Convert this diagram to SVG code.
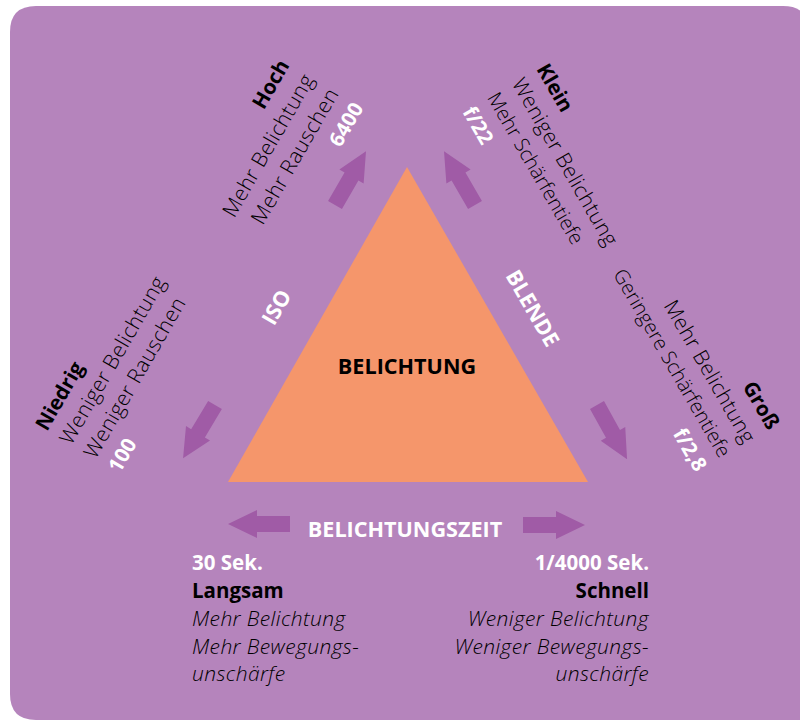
<svg xmlns="http://www.w3.org/2000/svg" width="800" height="720" viewBox="0 0 800 720">
<defs>
<style>
.t{font-family:"Open Sans","Noto Sans","Liberation Sans",sans-serif;font-size:21px;font-weight:350;letter-spacing:0.4px;fill:#000}
.n{font-size:20px;letter-spacing:0}
.b{font-weight:700;fill:#000;letter-spacing:0;font-size:20.5px}
.w{font-weight:700;fill:#fff;letter-spacing:0;font-size:20.5px}
.i{font-style:italic}
.h{font-family:"Open Sans","Noto Sans","Liberation Sans",sans-serif;font-size:21.6px;font-weight:700}
.arr{fill:#a05ba6}
</style>
<path id="a" d="M0,-8 L33,-8 L33,-14 L62,0 L33,14 L33,8 L0,8 Z"/>
</defs>
<path d="M36,6 L783,6 Q809,6 809,32 L809,720 L36,720 Q10,720 10,694 L10,32 Q10,6 36,6 Z" fill="#b584bc"/>
<g id="triangle">
<polygon points="407,167 228,482 588,482" fill="#f5966b"/>
<text class="h" x="407" y="374" text-anchor="middle" fill="#000">BELICHTUNG</text>
</g>
<g id="connectors" class="arr">
<use href="#a" transform="translate(335,205) rotate(-60)"/>
<use href="#a" transform="translate(475,205) rotate(-120)"/>
<use href="#a" transform="translate(215,405) rotate(121)"/>
<use href="#a" transform="translate(597,405) rotate(61)"/>
<use href="#a" transform="translate(290,524) rotate(180)"/>
<use href="#a" transform="translate(523,525)"/>
</g>
<g id="iso-label"><text class="h" fill="#fff" text-anchor="middle" transform="translate(283,311) rotate(-60)">ISO</text></g>
<g id="blende-label"><text class="h" fill="#fff" text-anchor="middle" transform="translate(526,312) rotate(60)">BLENDE</text></g>
<g id="zeit-label"><text class="h" fill="#fff" x="405" y="537" text-anchor="middle">BELICHTUNGSZEIT</text></g>
<g id="iso-hoch" transform="translate(290,65) rotate(-60)">
<text class="t b" y="0" text-anchor="end">Hoch</text>
<text class="t" y="28.5" text-anchor="end">Mehr Belichtung</text>
<text class="t" y="57" text-anchor="end">Mehr Rauschen</text>
<text class="t w" y="85.5" text-anchor="end">6400</text>
</g>
<g id="iso-niedrig" transform="translate(47,432) rotate(-60)">
<text class="t b" y="0">Niedrig</text>
<text class="t" y="28">Weniger Belichtung</text>
<text class="t" y="56">Weniger Rauschen</text>
<text class="t w" y="84">100</text>
</g>
<g id="blende-klein" transform="translate(536,69) rotate(60)">
<text class="t b" y="0">Klein</text>
<text class="t" y="28.5">Weniger Belichtung</text>
<text class="t n" y="57">Mehr Schärfentiefe</text>
<text class="t w" y="85.5">f/22</text>
</g>
<g id="blende-gross" transform="translate(768,431) rotate(60)">
<text class="t b" y="0" text-anchor="end">Groß</text>
<text class="t" y="28" text-anchor="end">Mehr Belichtung</text>
<text class="t n" y="56" text-anchor="end">Geringere Schärfentiefe</text>
<text class="t w" y="84" text-anchor="end">f/2,8</text>
</g>
<g id="zeit-langsam">
<text class="t w" x="192" y="570">30 Sek.</text>
<text class="t b" x="192" y="598">Langsam</text>
<text class="t i" x="192" y="626">Mehr Belichtung</text>
<text class="t i" x="192" y="654">Mehr Bewegungs-</text>
<text class="t i" x="192" y="681">unschärfe</text>
</g>
<g id="zeit-schnell" text-anchor="end">
<text class="t w" x="649" y="570">1/4000 Sek.</text>
<text class="t b" x="649" y="598">Schnell</text>
<text class="t i" x="649" y="626">Weniger Belichtung</text>
<text class="t i" x="649" y="654">Weniger Bewegungs-</text>
<text class="t i" x="649" y="681">unschärfe</text>
</g>
</svg>
